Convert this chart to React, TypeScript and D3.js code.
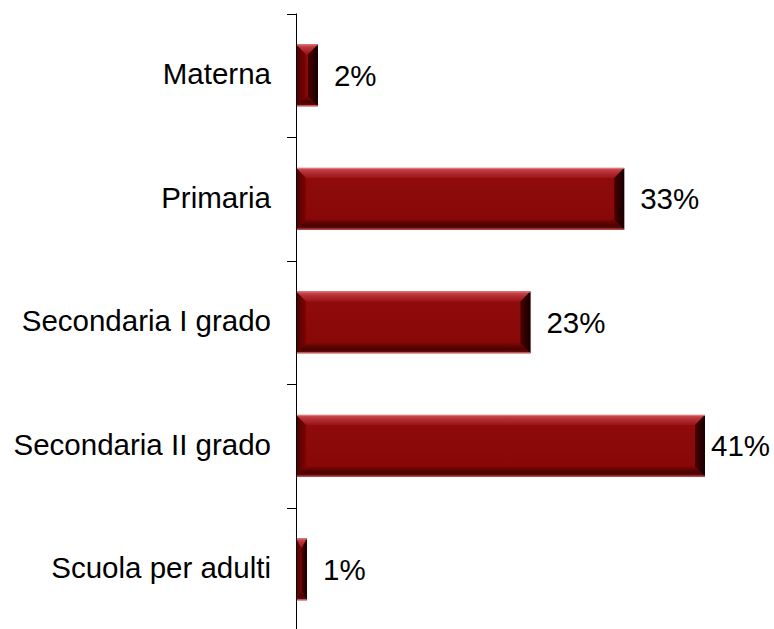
import React from "react";
import * as d3 from "d3";

const categories = ["Materna", "Primaria", "Secondaria I grado", "Secondaria II grado", "Scuola per adulti"];
const values = [2.2, 32.9, 23.5, 41.0, 1.1];
const labels = ["2%", "33%", "23%", "41%", "1%"];

const W = 774;
const H = 629;

export default function App() {
  const axisX = 296;
  const x = d3.scaleLinear().domain([0, 41]).range([axisX, 705]);
  const y = d3.scaleBand<string>().domain(categories).range([13.5, 631]).paddingInner(0.5).paddingOuter(0.25);
  const step = y.step();
  const bw = y.bandwidth();
  const font = "'Liberation Sans', Arial, Helvetica, sans-serif";

  return (
    <svg width={W} height={H} style={{ position: "absolute", left: 0, top: 0, background: "#fff" }}>
      <defs>
        <linearGradient id="face" x1="0" y1="0" x2="0" y2="1">
          <stop offset="0" stopColor="#920d0d" />
          <stop offset="1" stopColor="#860606" />
        </linearGradient>
        <linearGradient id="topB" x1="0" y1="0" x2="0" y2="1">
          <stop offset="0" stopColor="#d25458" />
          <stop offset="0.35" stopColor="#b8343a" />
          <stop offset="1" stopColor="#9a1418" />
        </linearGradient>
        <linearGradient id="botB" x1="0" y1="0" x2="0" y2="1">
          <stop offset="0" stopColor="#7a0606" />
          <stop offset="0.6" stopColor="#4a0202" />
          <stop offset="1" stopColor="#6a1010" />
        </linearGradient>
        <linearGradient id="leftB" x1="0" y1="0" x2="1" y2="0">
          <stop offset="0" stopColor="#4a0000" />
          <stop offset="1" stopColor="#7e0404" />
        </linearGradient>
        <linearGradient id="rightB" x1="0" y1="0" x2="1" y2="0">
          <stop offset="0" stopColor="#4a0000" />
          <stop offset="1" stopColor="#150000" />
        </linearGradient>
      </defs>
      {categories.map((c, i) => {
        const x0 = x(0);
        const x1 = x(values[i]);
        const y0 = y(c)!;
        const y1 = y0 + bw;
        const w = x1 - x0;
        const b = Math.min(10, w / 2);
        const bv = Math.min(10, bw / 2);
        const pts = (arr: number[][]) => arr.map((p) => p.join(",")).join(" ");
        const labelX = Math.min(x1 + 16, 711);
        return (
          <g key={c}>
            <rect x={x0} y={y0} width={w} height={bw} fill="url(#face)" />
            <polygon points={pts([[x0, y0], [x1, y0], [x1 - b, y0 + bv], [x0 + b, y0 + bv]])} fill="url(#topB)" />
            <polygon points={pts([[x0, y1], [x1, y1], [x1 - b, y1 - bv], [x0 + b, y1 - bv]])} fill="url(#botB)" />
            <polygon points={pts([[x0, y0], [x0 + b, y0 + bv], [x0 + b, y1 - bv], [x0, y1]])} fill="url(#leftB)" />
            <polygon points={pts([[x1, y0], [x1 - b, y0 + bv], [x1 - b, y1 - bv], [x1, y1]])} fill="url(#rightB)" />
            <line x1={x0} x2={x1} y1={y0 + 0.5} y2={y0 + 0.5} stroke="#e07a7a" strokeWidth={1} />
            <line x1={x0} x2={x1} y1={y1 - 0.5} y2={y1 - 0.5} stroke="#d06060" strokeWidth={1} />
            <text x={271} y={y0 + bw / 2} dy="0.3em" textAnchor="end" fontFamily={font} fontSize={29.5} fill="#000">
              {c}
            </text>
            <text x={labelX} y={y0 + bw / 2} dy="0.36em" textAnchor="start" fontFamily={font} fontSize={29.5} fill="#000">
              {labels[i]}
            </text>
          </g>
        );
      })}
      <line x1={axisX + 0.5} x2={axisX + 0.5} y1={13.5} y2={H} stroke="#000" strokeWidth={1} />
      {d3.range(categories.length + 1).map((k) => {
        const ty = Math.round(13.5 + k * step) + 0.5;
        return <line key={k} x1={287} x2={axisX} y1={ty} y2={ty} stroke="#000" strokeWidth={1} />;
      })}
    </svg>
  );
}
